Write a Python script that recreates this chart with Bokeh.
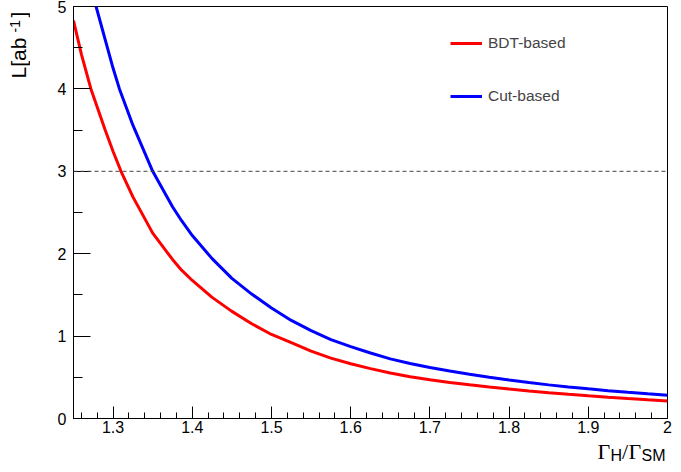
import numpy as np
from bokeh.plotting import figure
from bokeh.layouts import row, column
from bokeh.models import (Range1d, FixedTicker, Span, Legend, LegendItem, Label)
from bokeh.embed import file_html
from bokeh.resources import INLINE

# ---- data ----
bdt_ratio = [1.25, 1.26, 1.272, 1.29, 1.30, 1.31, 1.325, 1.35, 1.375, 1.3865, 1.40,
             1.425, 1.45, 1.475, 1.50, 1.525, 1.55, 1.575, 1.60, 1.625, 1.65, 1.675,
             1.70, 1.725, 1.75, 1.775, 1.80, 1.825, 1.85, 1.875, 1.90, 1.925, 1.95,
             1.975, 2.00]
bdt_lumi = [4.83, 4.42, 4.00, 3.50, 3.24, 3.00, 2.69, 2.25, 1.93, 1.80, 1.675,
            1.47, 1.30, 1.15, 1.02, 0.92, 0.818, 0.733, 0.665, 0.605, 0.552, 0.507,
            0.470, 0.438, 0.410, 0.383, 0.358, 0.335, 0.313, 0.293, 0.275, 0.258, 0.242,
            0.227, 0.213]
cut_ratio = [1.2785, 1.30, 1.308, 1.325, 1.35, 1.375, 1.3865, 1.40, 1.425, 1.45, 1.475,
             1.50, 1.525, 1.55, 1.575, 1.60, 1.625, 1.65, 1.675, 1.70, 1.725, 1.75,
             1.775, 1.80, 1.825, 1.85, 1.875, 1.90, 1.925, 1.95, 1.975, 2.00]
cut_lumi = [5.00, 4.25, 4.00, 3.56, 3.00, 2.57, 2.40, 2.22, 1.94, 1.70, 1.51,
            1.34, 1.19, 1.066, 0.957, 0.872, 0.795, 0.724, 0.667, 0.62, 0.577, 0.537,
            0.500, 0.467, 0.437, 0.408, 0.383, 0.360, 0.338, 0.318, 0.299, 0.281]
threshold = 3.0

x_tick_values = [1.3, 1.4, 1.5, 1.6, 1.7, 1.8, 1.9, 2.0]
x_tick_labels = ["1.3", "1.4", "1.5", "1.6", "1.7", "1.8", "1.9", "2"]
x_minor_ticks = [round(1.26 + 0.02 * i, 2) for i in range(38)]
y_tick_values = [0, 1, 2, 3, 4, 5]
y_tick_labels = ["0", "1", "2", "3", "4", "5"]
y_minor_ticks = [0.5, 1.5, 2.5, 3.5, 4.5]

SANS = "Liberation Sans"
SERIF = "Liberation Serif"

p = figure(width=643, height=438, output_backend="svg", toolbar_location=None,
           x_range=Range1d(1.25, 2.0), y_range=Range1d(0, 5),
           min_border_left=43, min_border_right=6, min_border_top=6, min_border_bottom=20)
p.xgrid.visible = False
p.ygrid.visible = False
p.outline_line_color = "black"
p.outline_line_width = 1
p.background_fill_color = "white"
p.border_fill_color = "white"

for ax, vals, labs, minors, standoff in (
        (p.xaxis[0], x_tick_values, x_tick_labels, x_minor_ticks, 2),
        (p.yaxis[0], y_tick_values, y_tick_labels, y_minor_ticks, 7)):
    ax.ticker = FixedTicker(ticks=vals, minor_ticks=minors)
    ax.major_label_overrides = {v: l for v, l in zip(vals, labs)}
    ax.axis_line_color = "black"
    ax.major_tick_line_color = "black"
    ax.minor_tick_line_color = "black"
    ax.major_tick_out = 0
    ax.minor_tick_out = 0
    ax.major_label_text_font = SANS
    ax.major_label_text_font_size = "16px"
    ax.major_label_text_color = "black"
    ax.major_label_standoff = standoff

p.xaxis.major_tick_in = 12
p.xaxis.minor_tick_in = 6
p.yaxis.major_tick_in = 17
p.yaxis.minor_tick_in = 9

p.add_layout(Span(location=threshold, dimension="width", line_color="#444444",
                  line_width=1, line_dash="4 3"))

r_bdt = p.line(bdt_ratio, bdt_lumi, line_color="#ff0000", line_width=3)
r_cut = p.line(cut_ratio, cut_lumi, line_color="#0000ff", line_width=3)

legend = Legend(items=[LegendItem(label="BDT-based", renderers=[r_bdt]),
                       LegendItem(label="Cut-based", renderers=[r_cut])],
                location=(377, 312), padding=0, margin=0, spacing=33,
                glyph_width=32, glyph_height=20, label_height=20, label_standoff=6,
                label_text_font=SANS, label_text_font_size="15.5px",
                border_line_color=None, background_fill_alpha=0)
p.add_layout(legend, "center")


def text_strip(w, h, left=0, right=0, top=0, bottom=0):
    f = figure(width=w, height=h, output_backend="svg", toolbar_location=None,
               x_axis_type=None, y_axis_type=None, min_border=0,
               min_border_left=left, min_border_right=right,
               min_border_top=top, min_border_bottom=bottom,
               x_range=Range1d(0, 1), y_range=Range1d(0, 1))
    f.xgrid.visible = False
    f.ygrid.visible = False
    f.outline_line_color = None
    f.background_fill_color = "white"
    f.border_fill_color = "white"
    return f


# y axis title: L[ab^-1]  (rotated, read bottom to top)
yfig = text_strip(30, 464)
for txt, sx, sy, size in (("L[ab", 18, 386, "21px"),
                          ("-1", 14, 432, "14px"),
                          ("]", 18, 447, "21px")):
    yfig.add_layout(Label(x=sx, y=sy, x_units="screen", y_units="screen", text=txt,
                          angle=np.pi / 2, text_font=SANS, text_font_size=size,
                          text_align="left", text_baseline="middle",
                          text_color="black"))

# x axis title: Gamma_H / Gamma_SM
xfig = text_strip(643, 26, left=43, right=6)
for txt, sx, sy, font, size in (("Γ", 524, 13.4, SERIF, "22px"),
                                ("H", 537, 9.4, SANS, "16px"),
                                ("/", 548.5, 13.4, SERIF, "22px"),
                                ("Γ", 555, 13.4, SERIF, "22px"),
                                ("SM", 568, 9.4, SANS, "16px")):
    xfig.add_layout(Label(x=sx, y=sy, x_units="screen", y_units="screen", text=txt,
                          text_font=font, text_font_size=size, text_align="left",
                          text_baseline="middle", text_color="black"))

layout = row(yfig, column(p, xfig, spacing=0), spacing=0)
open("out.html", "w").write(file_html(layout, INLINE))
